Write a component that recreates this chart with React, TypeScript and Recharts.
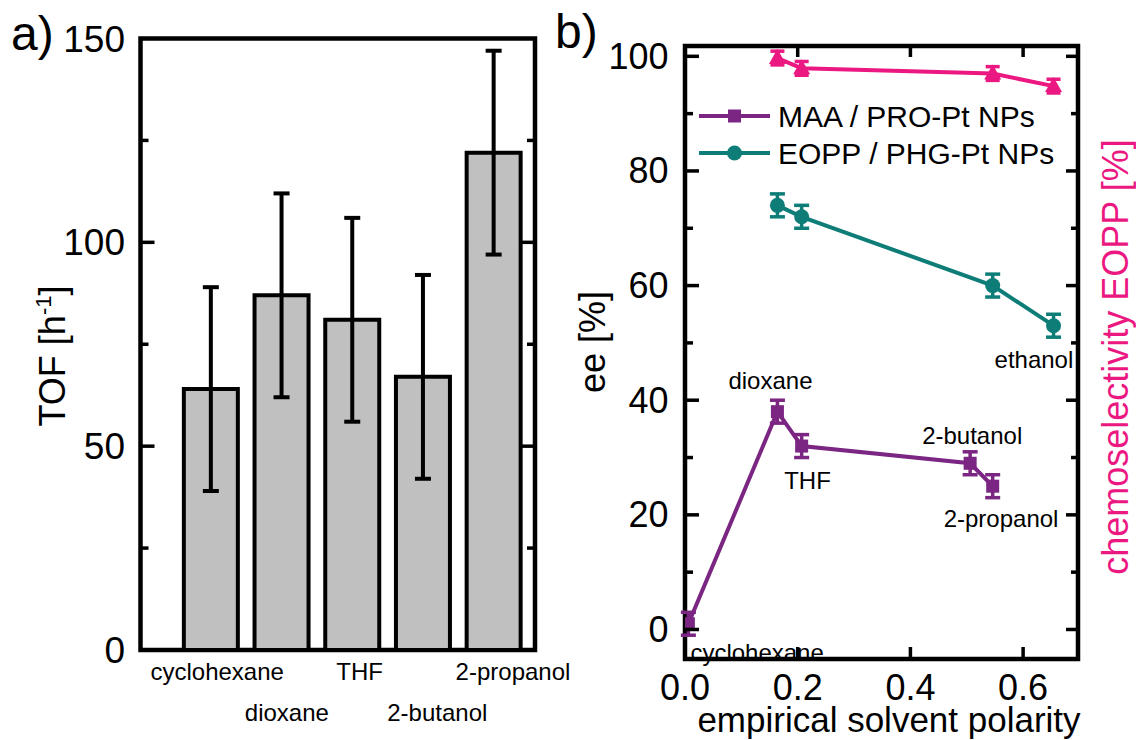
import React from 'react';
import {
  ComposedChart,
  Bar,
  Line,
  XAxis,
  YAxis,
  ErrorBar,
  ReferenceArea,
  Legend,
  LabelList,
} from 'recharts';

const FONT = '"Liberation Sans", Arial, Helvetica, sans-serif';

// ---------------- panel a data ----------------
const solvents = ['cyclohexane', 'dioxane', 'THF', '2-butanol', '2-propanol'];
const barPositions = [1, 2, 3, 4, 5];
const tofValues = [64, 87, 81, 67, 122];
const tofErrors = [25, 25, 25, 25, 25];
const tofTicks = [0, 25, 50, 75, 100, 125, 150];

// ---------------- panel b data ----------------
const maaName = 'MAA / PRO-Pt NPs';
const maaPolarity = [0.006, 0.164, 0.207, 0.506, 0.546];
const maaEe = [1, 38, 32, 29, 25];
const maaErr = [2, 2, 2, 2, 2];
const maaSolvents = ['cyclohexane', 'dioxane', 'THF', '2-butanol', '2-propanol'];

const eoppName = 'EOPP / PHG-Pt NPs';
const eoppPolarity = [0.164, 0.207, 0.546, 0.654];
const eoppEe = [74, 72, 60, 53];
const eoppErr = [2, 2, 2, 2];
const eoppSolvents = ['', '', '', 'ethanol'];

const chemoName = 'chemoselectivity EOPP';
const chemoPolarity = [0.164, 0.207, 0.546, 0.654];
const chemoValues = [99.7, 97.9, 97, 94.8];
const chemoErr = [1.2, 1.2, 1.2, 1.2];

const eeTicks = [0, 10, 20, 30, 40, 50, 60, 70, 80, 90, 100];
const polarityTicks = [0, 0.2, 0.4, 0.6];

// ---------------- styles ----------------
const MAA_C = '#7B2682';
const EOPP_C = '#0E7D78';
const PINK = '#EC1882';
const BAR_FILL = '#C0C0C0';

const A_DOMAIN_X: [number, number] = [0, 5.58];
const A_DOMAIN_Y: [number, number] = [0, 150];
const B_DOMAIN_X: [number, number] = [0, 0.6974];
const B_DOMAIN_Y: [number, number] = [-5.15, 101.8];

const xLabelDx = [6, 5, 7, 14, 19];
const annot: Record<string, { dx: number; dy: number }> = {
  cyclohexane: { dx: 2, dy: 37 },
  dioxane: { dx: -49, dy: -23 },
  THF: { dx: -17.5, dy: 43 },
  '2-butanol': { dx: -48, dy: -19 },
  '2-propanol': { dx: -49, dy: 41 },
  ethanol: { dx: -59, dy: 42 },
};

// ---------------- derived tables ----------------
const tofData = barPositions.map((p, i) => ({ pos: p, name: solvents[i], tof: tofValues[i], err: tofErrors[i] }));
const maaData = maaPolarity.map((x, i) => ({ x, ee: maaEe[i], err: maaErr[i], solvent: maaSolvents[i] }));
const eoppData = eoppPolarity.map((x, i) => ({ x, ee: eoppEe[i], err: eoppErr[i], solvent: eoppSolvents[i] }));
const chemoData = chemoPolarity.map((x, i) => ({ x, chemo: chemoValues[i], err: chemoErr[i] }));

// ---------------- tick renderers ----------------
function TofLeftTick(props: any) {
  const { x, y, payload } = props;
  const v = payload.value;
  const major = v % 50 === 0;
  return (
    <g>
      {v !== 0 && v !== 150 && (
        <line x1={x} x2={x + (major ? 14 : 8)} y1={y} y2={y} stroke="#000" strokeWidth={3.5} />
      )}
      {major && (
        <text x={x - 15.5} y={y + 13} textAnchor="end" fontSize={37} fontFamily={FONT} fill="#000">
          {v}
        </text>
      )}
    </g>
  );
}

function TofRightTick(props: any) {
  const { x, y, payload } = props;
  const v = payload.value;
  if (v === 0 || v === 150) return <g />;
  const major = v % 50 === 0;
  return <line x1={x} x2={x - (major ? 13 : 8)} y1={y} y2={y} stroke="#000" strokeWidth={3.5} />;
}

function SolventTick(props: any) {
  const { x, y, payload } = props;
  const i = barPositions.indexOf(payload.value);
  if (i < 0) return <g />;
  const row = i % 2;
  return (
    <text x={x + xLabelDx[i]} y={y + (row ? 71 : 30)} textAnchor="middle" fontSize={24} fontFamily={FONT} fill="#000">
      {solvents[i]}
    </text>
  );
}

function EeLeftTick(props: any) {
  const { x, y, payload } = props;
  const v = payload.value;
  const major = v % 20 === 0;
  return (
    <g>
      <line x1={x} x2={x + (major ? 14 : 8)} y1={y} y2={y} stroke="#000" strokeWidth={3.5} />
      {major && (
        <text x={x - 16.5} y={y + 12.5} textAnchor="end" fontSize={36} fontFamily={FONT} fill="#000">
          {v}
        </text>
      )}
    </g>
  );
}

function EeRightTick(props: any) {
  const { x, y, payload } = props;
  const v = payload.value;
  const major = v % 20 === 0;
  return <line x1={x} x2={x - (major ? 12 : 7)} y1={y} y2={y} stroke="#000" strokeWidth={3.5} />;
}

function PolarityTick(props: any) {
  const { x, y, payload } = props;
  const v = payload.value;
  return (
    <g>
      {v > 0 && <line x1={x} x2={x} y1={y} y2={y - 12} stroke="#000" strokeWidth={3.5} />}
      <text x={x} y={y + 41} textAnchor="middle" fontSize={36} fontFamily={FONT} fill="#000">
        {v.toFixed(1)}
      </text>
    </g>
  );
}

function PolarityTopTick(props: any) {
  const { x, y, payload } = props;
  const v = payload.value;
  if (v <= 0) return <g />;
  return <line x1={x} x2={x} y1={y} y2={y + 11} stroke="#000" strokeWidth={3.5} />;
}

// ---------------- markers ----------------
const SquareDot = (props: any) => {
  const { cx, cy } = props;
  if (cx == null || cy == null) return <g />;
  return <rect x={cx - 6.5} y={cy - 6.5} width={13} height={13} fill={MAA_C} />;
};
const CircleDot = (props: any) => {
  const { cx, cy } = props;
  if (cx == null || cy == null) return <g />;
  return <circle cx={cx} cy={cy} r={7.5} fill={EOPP_C} />;
};
const TriangleDot = (props: any) => {
  const { cx, cy } = props;
  if (cx == null || cy == null) return <g />;
  return <path d={`M${cx},${cy - 9} L${cx + 8.5},${cy + 6} L${cx - 8.5},${cy + 6} Z`} fill={PINK} />;
};

function SolventLabel(props: any) {
  const { x, y, value } = props;
  if (!value || !annot[value]) return <g />;
  const o = annot[value];
  return (
    <text x={x + o.dx} y={y + o.dy} fontSize={24} fontFamily={FONT} fill="#000" textAnchor="start">
      {value}
    </text>
  );
}

const legendOrder = [maaName, eoppName];
function LegendContent(props: any) {
  const items = (props.payload || [])
    .filter((p: any) => legendOrder.indexOf(p.value) >= 0)
    .sort((a: any, b: any) => legendOrder.indexOf(a.value) - legendOrder.indexOf(b.value));
  return (
    <svg width={400} height={80} style={{ overflow: 'visible' }}>
      {items.map((p: any, i: number) => {
        const y = 20 + i * 37;
        const isMaa = p.value === maaName;
        const c = isMaa ? MAA_C : EOPP_C;
        return (
          <g key={i}>
            <line x1={4} x2={75} y1={y} y2={y} stroke={c} strokeWidth={4} />
            {isMaa ? (
              <rect x={39.5 - 6.5} y={y - 6.5} width={13} height={13} fill={c} />
            ) : (
              <circle cx={39.5} cy={y} r={7.5} fill={c} />
            )}
            <text x={83} y={y + 10.5} fontSize={30} fontFamily={FONT} fill="#000">
              {p.value}
            </text>
          </g>
        );
      })}
    </svg>
  );
}

// ---------------- axis titles ----------------
const TofTitle = () => (
  <g>
    <text x={11} y={50} fontSize={48} fontFamily={FONT} fill="#000">
      a)
    </text>
    <text
      x={52}
      y={356}
      transform="rotate(-90 52 356)"
      textAnchor="middle"
      dy={12.6}
      fontSize={36}
      fontFamily={FONT}
      fill="#000"
    >
      TOF [h
      <tspan dy={-14} fontSize={22}>
        -1
      </tspan>
      <tspan dy={14}>]</tspan>
    </text>
  </g>
);

const B_LEFT = 540;
const EeTitle = () => (
  <g>
    <text x={555 - B_LEFT} y={48} fontSize={48} fontFamily={FONT} fill="#000">
      b)
    </text>
    <text
      x={592 - B_LEFT}
      y={342}
      transform={`rotate(-90 ${592 - B_LEFT} 342)`}
      textAnchor="middle"
      dy={12.6}
      fontSize={36}
      fontFamily={FONT}
      fill="#000"
    >
      ee [%]
    </text>
  </g>
);

const ChemoTitle = () => (
  <text
    x={1115.5 - B_LEFT}
    y={357}
    transform={`rotate(-90 ${1115.5 - B_LEFT} 357)`}
    textAnchor="middle"
    dy={12.6}
    fontSize={36}
    fontFamily={FONT}
    fill={PINK}
  >
    {chemoName} [%]
  </text>
);

const PolarityTitle = () => (
  <text x={889 - B_LEFT} y={732} textAnchor="middle" fontSize={35} fontFamily={FONT} fill="#000">
    empirical solvent polarity
  </text>
);

export default function App() {
  return (
    <div
      style={{
        position: 'absolute',
        left: 0,
        top: 0,
        width: 1136,
        height: 740,
        background: '#fff',
        fontFamily: FONT,
      }}
    >
      {/* panel a */}
      <div style={{ position: 'absolute', left: 0, top: 0 }}>
        <ComposedChart
          width={580}
          height={740}
          data={tofData}
          margin={{ top: 38.5, left: 139.5, right: 44, bottom: 89 }}
        >
          <XAxis
            dataKey="pos"
            type="number"
            domain={A_DOMAIN_X}
            allowDataOverflow
            ticks={barPositions}
            interval={0}
            height={1}
            tickSize={0}
            tickMargin={0}
            axisLine={false}
            tickLine={false}
            tick={<SolventTick />}
          />
          <YAxis
            yAxisId="left"
            type="number"
            domain={A_DOMAIN_Y}
            allowDataOverflow
            ticks={tofTicks}
            interval={0}
            width={1}
            tickSize={0}
            tickMargin={0}
            axisLine={false}
            tickLine={false}
            tick={<TofLeftTick />}
            label={TofTitle}
          />
          <YAxis
            yAxisId="right"
            orientation="right"
            type="number"
            domain={A_DOMAIN_Y}
            allowDataOverflow
            ticks={tofTicks}
            interval={0}
            width={1}
            tickSize={0}
            tickMargin={0}
            axisLine={false}
            tickLine={false}
            tick={<TofRightTick />}
          />
          <Bar
            yAxisId="left"
            dataKey="tof"
            fill={BAR_FILL}
            stroke="#000"
            strokeWidth={4}
            barSize={54}
            isAnimationActive={false}
          >
            <ErrorBar dataKey="err" direction="y" width={8} strokeWidth={4} stroke="#000" />
          </Bar>
          <Line
            yAxisId="right"
            dataKey="tof"
            stroke="none"
            dot={false}
            activeDot={false}
            legendType="none"
            isAnimationActive={false}
          />
          <ReferenceArea
            yAxisId="left"
            x1={A_DOMAIN_X[0]}
            x2={A_DOMAIN_X[1]}
            y1={A_DOMAIN_Y[0]}
            y2={A_DOMAIN_Y[1]}
            fill="none"
            fillOpacity={0}
            stroke="#000"
            strokeWidth={4.5}
            ifOverflow="visible"
          />
        </ComposedChart>
      </div>

      {/* panel b */}
      <div style={{ position: 'absolute', left: B_LEFT, top: 0 }}>
        <ComposedChart width={596} height={740} margin={{ top: 45, left: 144, right: 57, bottom: 80 }}>
          <XAxis
            xAxisId="b"
            dataKey="x"
            type="number"
            domain={B_DOMAIN_X}
            allowDataOverflow
            ticks={polarityTicks}
            interval={0}
            height={1}
            tickSize={0}
            tickMargin={0}
            axisLine={false}
            tickLine={false}
            tick={<PolarityTick />}
            label={PolarityTitle}
          />
          <XAxis
            xAxisId="t"
            orientation="top"
            dataKey="x"
            type="number"
            domain={B_DOMAIN_X}
            allowDataOverflow
            ticks={polarityTicks}
            interval={0}
            height={1}
            tickSize={0}
            tickMargin={0}
            axisLine={false}
            tickLine={false}
            tick={<PolarityTopTick />}
          />
          <YAxis
            yAxisId="l"
            type="number"
            domain={B_DOMAIN_Y}
            allowDataOverflow
            ticks={eeTicks}
            interval={0}
            width={1}
            tickSize={0}
            tickMargin={0}
            axisLine={false}
            tickLine={false}
            tick={<EeLeftTick />}
            label={EeTitle}
          />
          <YAxis
            yAxisId="r"
            orientation="right"
            type="number"
            domain={B_DOMAIN_Y}
            allowDataOverflow
            ticks={eeTicks}
            interval={0}
            width={1}
            tickSize={0}
            tickMargin={0}
            axisLine={false}
            tickLine={false}
            tick={<EeRightTick />}
            label={ChemoTitle}
          />
          <ReferenceArea
            xAxisId="b"
            yAxisId="l"
            x1={B_DOMAIN_X[0]}
            x2={B_DOMAIN_X[1]}
            y1={B_DOMAIN_Y[0]}
            y2={B_DOMAIN_Y[1]}
            fill="none"
            fillOpacity={0}
            stroke="#000"
            strokeWidth={4.5}
            ifOverflow="visible"
          />
          <Line
            xAxisId="t"
            yAxisId="r"
            data={chemoData}
            dataKey="chemo"
            name={chemoName}
            stroke={PINK}
            strokeWidth={4}
            dot={TriangleDot}
            activeDot={false}
            legendType="none"
            isAnimationActive={false}
          >
            <ErrorBar dataKey="err" direction="y" width={7} strokeWidth={3.5} stroke={PINK} />
          </Line>
          <Line
            xAxisId="b"
            yAxisId="l"
            data={maaData}
            dataKey="ee"
            name={maaName}
            stroke={MAA_C}
            strokeWidth={4}
            dot={SquareDot}
            activeDot={false}
            isAnimationActive={false}
          >
            <ErrorBar dataKey="err" direction="y" width={7.5} strokeWidth={3.5} stroke={MAA_C} />
            <LabelList dataKey="solvent" content={SolventLabel} />
          </Line>
          <Line
            xAxisId="b"
            yAxisId="l"
            data={eoppData}
            dataKey="ee"
            name={eoppName}
            stroke={EOPP_C}
            strokeWidth={4}
            dot={CircleDot}
            activeDot={false}
            isAnimationActive={false}
          >
            <ErrorBar dataKey="err" direction="y" width={7.5} strokeWidth={3.5} stroke={EOPP_C} />
            <LabelList dataKey="solvent" content={SolventLabel} />
          </Line>
          <Legend
            layout="vertical"
            align="center"
            verticalAlign="middle"
            content={LegendContent}
            wrapperStyle={{ left: 695 - B_LEFT, top: 96, width: 400, height: 80, right: 'auto', bottom: 'auto' }}
          />
        </ComposedChart>
      </div>
    </div>
  );
}
